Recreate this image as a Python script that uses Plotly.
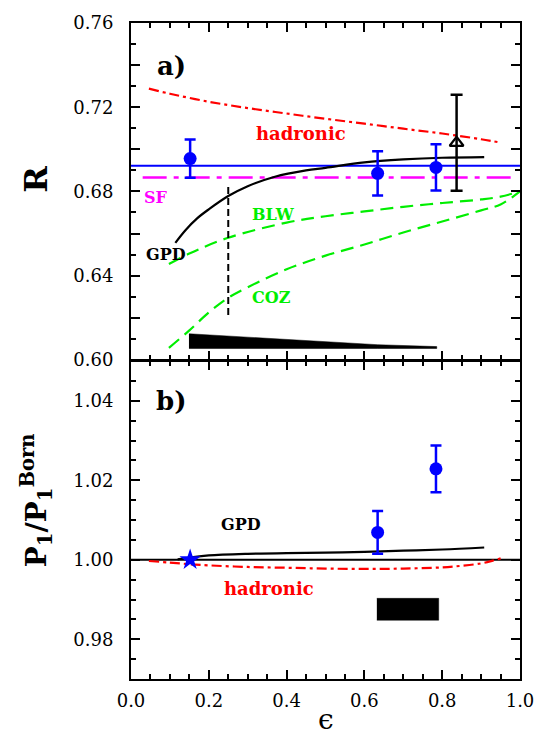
import plotly.graph_objects as go

# ---------------- Panel a) data ----------------
data_eps = [0.152, 0.634, 0.784]
data_R = [0.6956, 0.6886, 0.6914]
data_R_err = [0.0091, 0.0105, 0.0110]

tri_eps = [0.837]
tri_R = [0.7031]
tri_R_err = [0.0228]

fit_eps = [0.0, 1.0]
fit_R = [0.6922, 0.6922]

sf_eps = [0.03, 0.985]
sf_R = [0.6866, 0.6866]

had_eps = [0.046, 0.1, 0.2, 0.3, 0.4, 0.5, 0.6, 0.7, 0.8, 0.9, 0.95]
had_R = [0.7288, 0.7264, 0.7226, 0.7196, 0.7170, 0.7145, 0.7122, 0.7098, 0.7075, 0.7048, 0.7032]

gpd_eps = [0.114, 0.14, 0.17, 0.2, 0.25, 0.3, 0.37, 0.45, 0.5, 0.6, 0.7, 0.8, 0.908]
gpd_R = [0.6556, 0.6616, 0.6672, 0.6715, 0.6778, 0.6825, 0.6870, 0.6900, 0.6912, 0.6938, 0.6952, 0.6960, 0.6963]

blw_eps = [0.0975, 0.15, 0.25, 0.4, 0.5, 0.6, 0.7, 0.8, 0.9, 0.95, 1.0]
blw_R = [0.6455, 0.6505, 0.6580, 0.6652, 0.6682, 0.6705, 0.6727, 0.6745, 0.6762, 0.6775, 0.6800]

coz_eps = [0.0975, 0.15, 0.2, 0.25, 0.3, 0.4, 0.5, 0.6, 0.7, 0.8, 0.9, 0.95, 1.0]
coz_R = [0.6057, 0.6140, 0.6225, 0.6295, 0.6345, 0.6430, 0.6495, 0.6548, 0.6605, 0.6657, 0.6710, 0.6738, 0.6800]

cut_eps = [0.25, 0.25]
cut_R = [0.6213, 0.6831]

sysa_eps = [0.149, 0.634, 0.786]
sysa_top = [0.6124, 0.6072, 0.6063]
sysa_bot = [0.6054, 0.6054, 0.6054]

# ---------------- Panel b) data ----------------
pdata_eps = [0.634, 0.784]
pdata_P = [1.0069, 1.0229]
pdata_err = [0.0054, 0.0059]

star_eps = [0.152]
star_P = [1.000]

one_eps = [0.0, 1.0]
one_P = [1.0, 1.0]

pgpd_eps = [0.12, 0.16, 0.2, 0.3, 0.4, 0.5, 0.6, 0.7, 0.8, 0.908]
pgpd_P = [1.0001, 1.0007, 1.0011, 1.0015, 1.0017, 1.0018, 1.0020, 1.0023, 1.0026, 1.0031]

phad_eps = [0.046, 0.1, 0.15, 0.2, 0.3, 0.4, 0.5, 0.6, 0.7, 0.8, 0.85, 0.9, 0.93, 0.955]
phad_P = [0.9997, 0.9993, 0.9989, 0.9986, 0.9982, 0.9980, 0.9978, 0.9977, 0.9978, 0.9981, 0.9985, 0.9991, 0.9998, 1.0005]

sysb_eps = [0.632, 0.791]
sysb_top = [0.9903, 0.9903]
sysb_bot = [0.9848, 0.9848]

# tick labels
ra_ticks = [0.60, 0.62, 0.64, 0.66, 0.68, 0.70, 0.72, 0.74, 0.76]
ra_labels = ["0.60", " ", "0.64", " ", "0.68", " ", "0.72", " ", "0.76"]
pb_ticks = [0.98, 1.00, 1.02, 1.04]
pb_labels = ["0.98", "1.00", "1.02", "1.04"]
x_ticks = [0.0, 0.2, 0.4, 0.6, 0.8, 1.0]
x_labels = ["0.0", "0.2", "0.4", "0.6", "0.8", "1.0"]

SERIF = "DejaVu Serif"
BLUE = "#0000ff"
RED = "#ff0000"
GREEN = "#00ee00"
MAG = "#ff00ff"

fig = go.Figure()

# ---- top panel (x, y) ----
fig.add_trace(go.Scatter(x=sysa_eps + sysa_eps[::-1], y=sysa_top + sysa_bot[::-1],
                         fill="toself", fillcolor="black", mode="lines",
                         line=dict(color="black", width=0.5), xaxis="x", yaxis="y"))
fig.add_trace(go.Scatter(x=coz_eps, y=coz_R, mode="lines", line=dict(color=GREEN, width=2.2, dash="13px,7px", shape="spline"),
                         xaxis="x", yaxis="y"))
fig.add_trace(go.Scatter(x=blw_eps, y=blw_R, mode="lines", line=dict(color=GREEN, width=2.2, dash="13px,7px", shape="spline"),
                         xaxis="x", yaxis="y"))
fig.add_trace(go.Scatter(x=cut_eps, y=cut_R, mode="lines", line=dict(color="black", width=2, dash="7px,4px"),
                         xaxis="x", yaxis="y"))
fig.add_trace(go.Scatter(x=had_eps, y=had_R, mode="lines", line=dict(color=RED, width=2.2, dash="10px,4px,3px,4px", shape="spline"),
                         xaxis="x", yaxis="y"))
fig.add_trace(go.Scatter(x=sf_eps, y=sf_R, mode="lines", line=dict(color=MAG, width=2.4, dash="24px,7px,5px,7px"),
                         xaxis="x", yaxis="y"))
fig.add_trace(go.Scatter(x=fit_eps, y=fit_R, mode="lines", line=dict(color=BLUE, width=2.2),
                         xaxis="x", yaxis="y"))
fig.add_trace(go.Scatter(x=gpd_eps, y=gpd_R, mode="lines", line=dict(color="black", width=2.2, shape="spline"),
                         xaxis="x", yaxis="y"))
fig.add_trace(go.Scatter(x=tri_eps, y=tri_R, mode="markers",
                         marker=dict(symbol="triangle-up-open", size=12, color="black", line=dict(width=2.2)),
                         error_y=dict(type="data", array=tri_R_err, color="black", thickness=2.5, width=6),
                         xaxis="x", yaxis="y"))
fig.add_trace(go.Scatter(x=data_eps, y=data_R, mode="markers",
                         marker=dict(symbol="circle", size=13, color=BLUE),
                         error_y=dict(type="data", array=data_R_err, color=BLUE, thickness=2.5, width=5.5),
                         xaxis="x", yaxis="y"))

# ---- bottom panel (x2, y2) ----
fig.add_trace(go.Scatter(x=sysb_eps + sysb_eps[::-1], y=sysb_top + sysb_bot[::-1],
                         fill="toself", fillcolor="black", mode="lines",
                         line=dict(color="black", width=0.5), xaxis="x2", yaxis="y2"))
fig.add_trace(go.Scatter(x=one_eps, y=one_P, mode="lines", line=dict(color="black", width=2),
                         xaxis="x2", yaxis="y2"))
fig.add_trace(go.Scatter(x=phad_eps, y=phad_P, mode="lines", line=dict(color=RED, width=2.2, dash="10px,4px,3px,4px", shape="spline"),
                         xaxis="x2", yaxis="y2"))
fig.add_trace(go.Scatter(x=pgpd_eps, y=pgpd_P, mode="lines", line=dict(color="black", width=2.2, shape="spline"),
                         xaxis="x2", yaxis="y2"))
fig.add_trace(go.Scatter(x=pdata_eps, y=pdata_P, mode="markers",
                         marker=dict(symbol="circle", size=13, color=BLUE),
                         error_y=dict(type="data", array=pdata_err, color=BLUE, thickness=2.5, width=5.5),
                         xaxis="x2", yaxis="y2"))
fig.add_trace(go.Scatter(x=star_eps, y=star_P, mode="markers",
                         marker=dict(symbol="star", size=16, color=BLUE),
                         xaxis="x2", yaxis="y2"))

tickfont = dict(family=SERIF, size=18, color="black")
common_x = dict(range=[0, 1], showline=True, linewidth=2, linecolor="black", mirror="ticks",
                ticks="inside", ticklen=9, tickwidth=1.5, tickcolor="black",
                tickmode="array", tickvals=x_ticks, ticktext=x_labels,
                minor=dict(tickmode="linear", tick0=0, dtick=0.05, ticks="inside", ticklen=5,
                           tickwidth=1.5, tickcolor="black", showgrid=False),
                showgrid=False, zeroline=False, tickfont=tickfont)

fig.update_layout(
    width=546, height=736,
    margin=dict(l=131, r=15, t=15, b=57),
    paper_bgcolor="white", plot_bgcolor="white",
    showlegend=False,
    xaxis=dict(common_x, anchor="y", domain=[0, 1], showticklabels=False),
    xaxis2=dict(common_x, anchor="y2", domain=[0, 1], showticklabels=True, ticklabelstandoff=4),
    yaxis=dict(range=[0.60, 0.76], domain=[0.4865, 1], anchor="x",
               showline=True, linewidth=2, linecolor="black", mirror="ticks",
               ticks="inside", ticklen=9, tickwidth=1.5, tickcolor="black",
               tickmode="array", tickvals=ra_ticks, ticktext=ra_labels,
               minor=dict(tickmode="linear", tick0=0.60, dtick=0.01, ticks="inside", ticklen=5,
                          tickwidth=1.5, tickcolor="black", showgrid=False),
               showgrid=False, zeroline=False, tickfont=tickfont, ticklabelstandoff=12),
    yaxis2=dict(range=[0.97, 1.05], domain=[0, 0.4845], anchor="x2",
                showline=True, linewidth=2, linecolor="black", mirror="ticks",
                ticks="inside", ticklen=9, tickwidth=1.5, tickcolor="black",
                tickmode="array", tickvals=pb_ticks, ticktext=pb_labels,
                minor=dict(tickmode="linear", tick0=0.97, dtick=0.005, ticks="inside", ticklen=5,
                           tickwidth=1.5, tickcolor="black", showgrid=False),
                showgrid=False, zeroline=False, tickfont=tickfont, ticklabelstandoff=12),
)

def lab(text, x, y, color, size, xref="x", yref="y", **kw):
    fig.add_annotation(text=text, x=x, y=y, xref=xref, yref=yref, showarrow=False,
                       font=dict(family=SERIF, size=size, color=color, weight="bold"), **kw)

# panel a labels
lab("a)", 0.103, 0.7394, "black", 26)
lab("hadronic", 0.436, 0.7073, RED, 18)
lab("SF", 0.065, 0.6772, MAG, 16)
lab("BLW", 0.366, 0.6690, GREEN, 16)
lab("COZ", 0.362, 0.6295, GREEN, 16)
lab("GPD", 0.090, 0.6500, "black", 16)
# panel b labels
lab("b)", 0.103, 1.0400, "black", 26, xref="x2", yref="y2")
lab("GPD", 0.283, 1.0088, "black", 16, xref="x2", yref="y2")
lab("hadronic", 0.355, 0.9927, RED, 18, xref="x2", yref="y2")

# axis titles
fig.add_annotation(text="R", xref="paper", yref="paper", x=-0.30, y=0.785, showarrow=False,
                   textangle=-90, font=dict(family=SERIF, size=32, color="black", weight="bold"))
fig.add_annotation(text="P<sub>1</sub>/P<sub>1</sub><sup>Born</sup>", xref="paper", yref="paper",
                   x=-0.30, y=0.167, showarrow=False, textangle=-90,
                   font=dict(family=SERIF, size=28, color="black", weight="bold"))
fig.add_annotation(text="ϵ", xref="paper", yref="paper", x=0.5, y=-0.062, yanchor="middle",
                   showarrow=False, font=dict(family=SERIF, size=28, color="black"))

fig.write_html("out.html")
